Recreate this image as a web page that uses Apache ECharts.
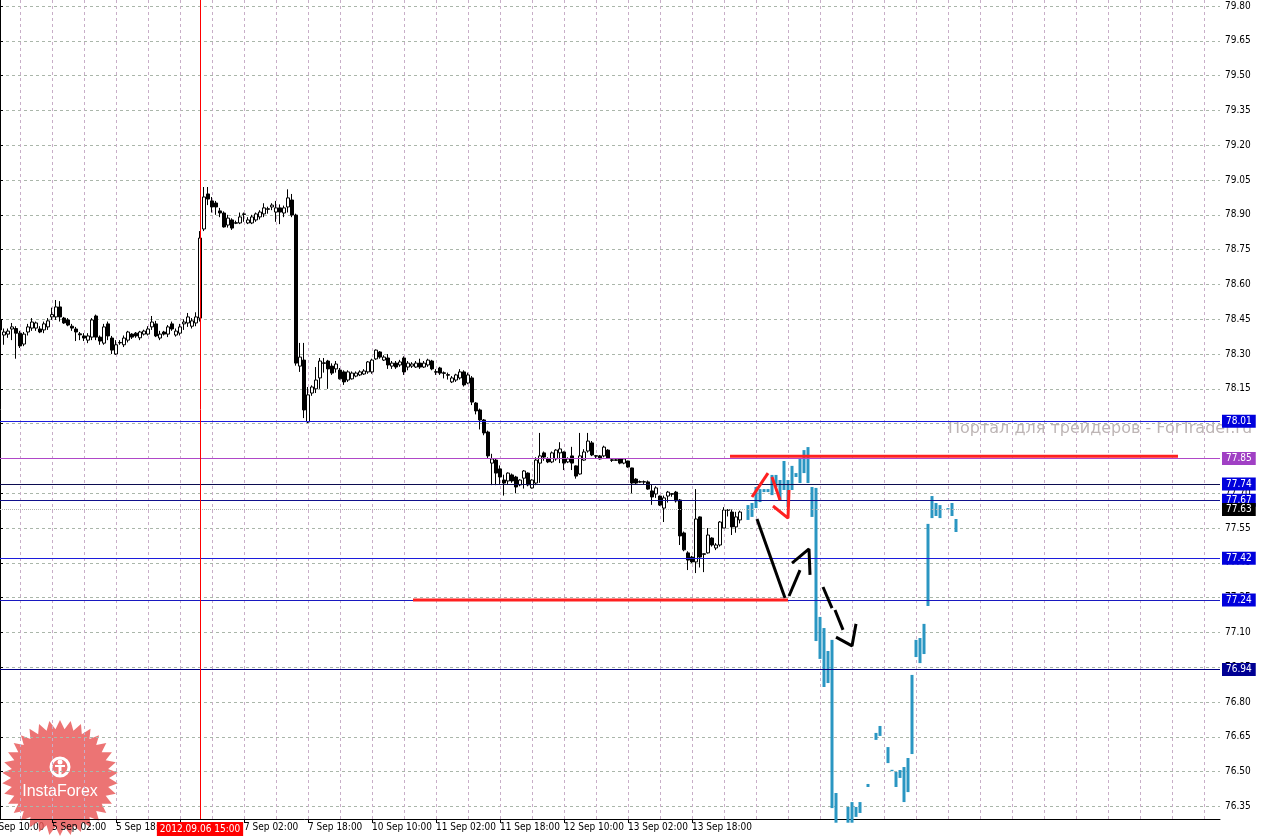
<!DOCTYPE html>
<html><head><meta charset="utf-8">
<script src="https://cdn.jsdelivr.net/npm/echarts@6/dist/echarts.min.js"></script>
<style>html,body{margin:0;padding:0;background:#fff}#c{width:1263px;height:839px}</style>
</head><body><div id="c"></div>
<script>
const FONT = "'DejaVu Sans Condensed','DejaVu Sans',sans-serif";

// time axis: one category per hourly bar, category 0 = 4 Sep 13:00
const barCount = 306;
const firstLabelBefore = '4 Sep 10:00';   // tick 3 bars before the left edge
const xTickLabels = ['5 Sep 02:00','5 Sep 18:00','6 Sep 10:00','7 Sep 02:00','7 Sep 18:00','10 Sep 10:00','11 Sep 02:00','11 Sep 18:00','12 Sep 10:00','13 Sep 02:00','13 Sep 18:00'];
const xTickFirst = 13, xTickStep = 16;
const xGridFirst = 5, xGridStep = 8;
const yTickValues = [76.35,76.50,76.65,76.80,76.95,77.10,77.25,77.40,77.55,77.70,77.85,78.00,78.15,78.30,78.45,78.60,78.75,78.90,79.05,79.20,79.35,79.50,79.65,79.80];
const yMin = 76.296, yMax = 79.826;

// hourly candles [open, close, low, high], starting at category 0
const candles = [
[78.447,78.404,78.39,78.455],[78.382,78.395,78.34,78.41],[78.386,78.399,78.37,78.41],[78.408,78.417,78.36,78.434],
[78.41,78.39,78.28,78.42],[78.39,78.335,78.326,78.40],[78.343,78.386,78.334,78.395],[78.395,78.417,78.38,78.43],
[78.412,78.438,78.40,78.455],[78.412,78.434,78.40,78.44],[78.408,78.395,78.39,78.42],[78.404,78.43,78.39,78.44],
[78.417,78.443,78.404,78.455],[78.46,78.47,78.447,78.50],[78.46,78.503,78.447,78.533],[78.503,78.46,78.44,78.528],
[78.455,78.434,78.43,78.46],[78.447,78.425,78.42,78.455],[78.42,78.412,78.40,78.43],[78.408,78.395,78.356,78.417],
[78.387,78.383,78.36,78.395],[78.378,78.369,78.356,78.39],[78.36,78.378,78.347,78.39],[78.373,78.447,78.36,78.455],
[78.464,78.373,78.36,78.47],[78.373,78.356,78.34,78.38],[78.347,78.417,78.34,78.43],[78.43,78.378,78.36,78.44],
[78.369,78.317,78.30,78.378],[78.30,78.34,78.296,78.36],[78.348,78.35,78.34,78.36],[78.34,78.369,78.33,78.38],
[78.36,78.395,78.35,78.40],[78.386,78.373,78.365,78.39],[78.39,78.378,78.37,78.395],[78.37,78.395,78.36,78.40],
[78.386,78.399,78.38,78.405],[78.386,78.408,78.38,78.42],[78.417,78.438,78.404,78.464],[78.43,78.378,78.373,78.443],
[78.369,78.386,78.36,78.40],[78.395,78.386,78.38,78.40],[78.386,78.417,78.373,78.425],[78.43,78.408,78.40,78.44],
[78.382,78.399,78.375,78.41],[78.39,78.417,78.38,78.43],[78.43,78.438,78.404,78.45],[78.434,78.46,78.417,78.477],
[78.42,78.443,78.41,78.455],[78.434,78.46,78.42,78.48],[78.455,78.80,78.44,78.83],[78.839,78.977,78.83,79.02],
[78.99,78.968,78.942,79.02],[78.96,78.934,78.91,78.977],[78.951,78.934,78.90,78.96],[78.917,78.908,78.89,78.93],
[78.908,78.848,78.845,78.915],[78.856,78.886,78.845,78.90],[78.878,78.843,78.835,78.885],[78.866,78.864,78.86,78.875],
[78.865,78.891,78.86,78.91],[78.904,78.902,78.87,78.91],[78.865,78.878,78.86,78.89],[78.865,78.891,78.86,78.90],
[78.878,78.904,78.87,78.91],[78.891,78.912,78.88,78.92],[78.904,78.930,78.89,78.95],[78.926,78.924,78.905,78.935],
[78.934,78.942,78.92,78.95],[78.912,78.930,78.87,78.96],[78.930,78.912,78.86,78.945],[78.908,78.930,78.89,78.94],
[78.934,78.973,78.91,79.01],[78.964,78.899,78.89,78.99],[78.899,78.261,78.25,78.905],[78.248,78.287,78.223,78.348],
[78.274,78.059,78.024,78.348],[78.007,78.124,78.003,78.158],[78.132,78.158,78.12,78.165],[78.150,78.188,78.132,78.244],
[78.197,78.270,78.150,78.283],[78.262,78.26,78.22,78.283],[78.270,78.236,78.150,78.275],[78.248,78.218,78.21,78.26],
[78.236,78.257,78.22,78.27],[78.231,78.193,78.19,78.24],[78.223,78.180,78.167,78.23],[78.188,78.223,78.18,78.23],
[78.193,78.218,78.19,78.225],[78.205,78.218,78.20,78.225],[78.210,78.223,78.205,78.23],[78.214,78.227,78.21,78.235],
[78.223,78.266,78.215,78.27],[78.223,78.274,78.215,78.28],[78.279,78.317,78.275,78.32],[78.309,78.287,78.28,78.313],
[78.274,78.287,78.27,78.295],[78.283,78.253,78.236,78.30],[78.248,78.261,78.236,78.27],[78.261,78.244,78.236,78.27],
[78.253,78.266,78.245,78.275],[78.283,78.223,78.21,78.29],[78.244,78.261,78.23,78.27],[78.248,78.257,78.24,78.265],
[78.244,78.261,78.24,78.27],[78.261,78.244,78.236,78.28],[78.244,78.261,78.24,78.27],[78.253,78.274,78.245,78.28],
[78.270,78.236,78.23,78.275],[78.224,78.222,78.21,78.235],[78.240,78.218,78.21,78.245],[78.219,78.217,78.195,78.225],
[78.211,78.209,78.19,78.22],[78.180,78.197,78.175,78.205],[78.188,78.210,78.18,78.215],[78.197,78.223,78.19,78.235],
[78.223,78.167,78.16,78.23],[78.175,78.210,78.17,78.22],[78.197,78.093,78.08,78.205],[78.089,78.055,78.04,78.093],
[78.059,78.016,77.975,78.065],[78.016,77.960,77.95,78.02],[77.964,77.861,77.85,77.97],[77.830,77.848,77.735,77.87],
[77.843,77.787,77.735,77.85],[77.805,77.770,77.74,77.82],[77.757,77.744,77.69,77.78],[77.753,77.787,77.74,77.79],
[77.779,77.753,77.745,77.785],[77.770,77.727,77.70,77.775],[77.736,77.757,77.73,77.76],[77.765,77.796,77.72,77.80],
[77.787,77.736,77.73,77.79],[77.723,77.757,77.72,77.76],[77.744,77.843,77.735,77.855],[77.830,77.861,77.745,77.96],
[77.874,77.856,77.84,77.88],[77.848,77.835,77.83,77.855],[77.835,77.874,77.83,77.88],[77.848,77.886,77.84,77.89],
[77.874,77.891,77.83,77.92],[77.878,77.830,77.80,77.88],[77.835,77.848,77.83,77.855],[77.861,77.830,77.80,77.90],
[77.818,77.774,77.763,77.82],[77.783,77.861,77.78,77.96],[77.843,77.878,77.84,77.89],[77.882,77.925,77.875,77.96],
[77.917,77.865,77.86,77.925],[77.862,77.860,77.85,77.865],[77.861,77.848,77.845,77.865],[77.861,77.899,77.855,77.905],
[77.886,77.852,77.85,77.89],[77.844,77.842,77.835,77.85],[77.844,77.842,77.84,77.85],[77.848,77.830,77.825,77.85],
[77.830,77.848,77.825,77.85],[77.839,77.813,77.81,77.84],[77.809,77.744,77.70,77.81],[77.761,77.744,77.74,77.765],
[77.750,77.748,77.745,77.755],[77.750,77.748,77.74,77.755],[77.749,77.718,77.715,77.755],[77.710,77.684,77.65,77.736],
[77.697,77.723,77.68,77.73],[77.688,77.649,77.645,77.69],[77.636,77.680,77.576,77.69],[77.688,77.705,77.66,77.71],
[77.698,77.696,77.685,77.70],[77.705,77.667,77.66,77.71],[77.671,77.516,77.477,77.675],[77.529,77.456,77.45,77.535],
[77.443,77.412,77.369,77.45],[77.425,77.404,77.40,77.43],[77.404,77.589,77.356,77.718],[77.598,77.425,77.38,77.60],
[77.439,77.437,77.36,77.44],[77.443,77.520,77.44,77.55],[77.507,77.477,77.47,77.51],[77.464,77.477,77.455,77.485],
[77.477,77.576,77.47,77.58],[77.550,77.628,77.55,77.64],[77.629,77.627,77.60,77.632],[77.619,77.555,77.52,77.63],
[77.555,77.598,77.53,77.62],[77.585,77.619,77.57,77.625]
];

// overlaid blue range bars [top, bottom], first one at category 187
const blueStart = 187;
const blueBars = [
[77.649,77.585],[77.658,77.598],[77.727,77.636],[77.718,77.662],[77.718,77.705],[77.718,77.705],[77.779,77.692],
[77.779,77.727],[77.757,77.671],[77.839,77.714],[77.757,77.641],[77.818,77.714],[77.787,77.770],[77.852,77.744],
[77.886,77.787],[77.899,77.744],[77.727,77.598],[77.723,77.063],[77.167,76.986],[77.119,76.865],[77.020,76.882],
[77.068,76.343],[76.408,76.28],null,null,[76.348,76.28],[76.369,76.28],[76.348,76.305],[76.369,76.322],null,
[76.447,76.434],null,[76.667,76.637],[76.697,76.654],null,[76.606,76.537],[76.508,76.502],[76.499,76.434],
[76.507,76.473],[76.520,76.369],[76.559,76.412],[76.917,76.576],[77.068,76.994],[77.076,76.968],[77.137,77.007],
[77.568,77.214],[77.688,77.593],[77.658,77.602],[77.649,77.593],null,[77.636,77.630],[77.658,77.602],[77.589,77.533]
];

// horizontal price levels
const levelPrices = [78.01, 77.85, 77.74, 77.67, 77.63, 77.42, 77.24, 76.94];
const levelLine  = ['#1c1cdc','#b048c8','#0c0c50','#10108c','#b4b4b4','#1c1cdc','#1818c0','#000080'];
const levelBox   = ['#0000dc','#a040c4','#0000dc','#0000dc','#000000','#0000dc','#0000dc','#000094'];
const levelType  = ['solid','solid','solid','solid','dotted','solid','solid','solid'];

const cursorIndex = 50; const cursorLabel = '2012.09.06 15:00';

// hand-drawn annotations: [category position, price]
const blackStrokes = [
 [[189.25,77.589],[196.25,77.249]],
 [[197.25,77.257],[200,77.369]],
 [[198,77.399],[202.25,77.460],[202.5,77.348]],
 [[205.75,77.296],[208,77.205]],
 [[208.75,77.197],[210.75,77.111]],
 [[209,77.080],[213,77.042],[214,77.137]]
];
const redStrokes = [
 [[188,77.684],[192,77.787]],
 [[193,77.770],[195,77.671]],
 [[193.25,77.645],[197,77.593],[197.25,77.714]],
 [[103.25,77.24],[197,77.24]],
 [[182.5,77.86],[294.5,77.86]]
];

const categories = [];
for (let i = 0; i < barCount; i++) categories.push(String(i));
const candleData = categories.map(() => ['-','-','-','-']);
candles.forEach((c, i) => { candleData[i] = c; });
const blueData = categories.map(() => ['-','-','-','-']);
blueBars.forEach((b, i) => { if (b) blueData[blueStart + i] = [b[0], b[1], b[1], b[0]]; });

const tickPos = (idx) => (idx - xTickFirst) % xTickStep === 0 && idx >= xTickFirst && (idx - xTickFirst) / xTickStep < xTickLabels.length;

const markData = levelPrices.map((v, i) => ({
  yAxis: v,
  lineStyle: {color: levelLine[i], width: 1, type: levelType[i]},
  label: {show: true, position: 'end', distance: 2, formatter: v.toFixed(2), color: '#fff',
    backgroundColor: levelBox[i], padding: [1,4,0,4], fontSize: 10, lineHeight: 12, fontFamily: FONT}
}));
markData.push({
  xAxis: cursorIndex,
  lineStyle: {color: '#ff0000', width: 1, type: 'solid'},
  label: {show: true, position: 'start', distance: 3, formatter: cursorLabel, color: '#fff',
    backgroundColor: '#ff0000', padding: [1,3,0,3], fontSize: 10, lineHeight: 13, fontFamily: FONT}
});

const series = [
  {type: 'line', data: [], xAxisIndex: 0, yAxisIndex: 0, z: 1, silent: true,
   markLine: {symbol: ['none','none'], silent: true, animation: false, data: markData}},
  {type: 'candlestick', name: 'blue', xAxisIndex: 0, data: blueData, barWidth: 3, z: 3,
   itemStyle: {color: '#2a96c2', color0: '#2a96c2', borderColor: '#2a96c2', borderColor0: '#2a96c2', borderWidth: 0}},
  {type: 'candlestick', name: 'price', xAxisIndex: 0, data: candleData, barWidth: 3, z: 4,
   itemStyle: {color: '#ffffff', color0: '#000000', borderColor: '#000000', borderColor0: '#000000', borderWidth: 1}}
];
blackStrokes.forEach(s => series.push({type: 'line', xAxisIndex: 1, data: s, symbol: 'none', z: 6, silent: true,
  lineStyle: {color: '#000', width: 3}}));
redStrokes.forEach(s => series.push({type: 'line', xAxisIndex: 1, data: s, symbol: 'none', z: 6, silent: true,
  lineStyle: {color: '#ff2020', width: 3}}));

// InstaForex badge outline
const star = [];
const spikes = 34, R = 58, r = 49, cx = 60, cy = 778;
for (let k = 0; k < spikes * 2; k++) {
  const a = Math.PI * k / spikes - Math.PI / 2;
  const rad = k % 2 === 0 ? R : r;
  star.push([cx + rad * Math.cos(a), cy + rad * Math.sin(a)]);
}

const chart = echarts.init(document.getElementById('c'), null, {renderer: 'canvas'});
chart.setOption({
  animation: false,
  backgroundColor: '#ffffff',
  grid: {left: 0, right: 43, top: 0, bottom: 20, containLabel: false},
  xAxis: [{
    type: 'category', data: categories, boundaryGap: false,
    axisLine: {show: true, lineStyle: {color: '#000', width: 1}},
    axisTick: {show: true, length: 4, interval: tickPos, lineStyle: {color: '#000'}},
    axisLabel: {interval: tickPos, align: 'left', margin: 3, fontSize: 10, fontFamily: FONT, color: '#000',
      formatter: (v) => xTickLabels[(Number(v) - xTickFirst) / xTickStep] || ''},
    splitLine: {show: true, interval: (idx) => (idx - xGridFirst) % xGridStep === 0, lineStyle: {color: '#c8aec8', type: [3,3], width: 1}}
  }, {
    type: 'value', min: 0, max: barCount - 1, show: false
  }],
  yAxis: {
    type: 'value', position: 'right', min: yMin, max: yMax, scale: true,
    axisLine: {show: true, lineStyle: {color: '#000', width: 1}},
    axisTick: {show: true, length: 3, customValues: yTickValues, lineStyle: {color: '#000'}},
    axisLabel: {customValues: yTickValues, margin: 5, fontSize: 10, fontFamily: FONT, color: '#000',
      formatter: (v) => v.toFixed(2)},
    splitLine: {show: true, lineStyle: {color: '#aab6aa', type: [3,3], width: 1}}
  },
  series: series,
  graphic: [
    {type: 'text', x: -10, y: 822, z: 0, silent: true,
     style: {text: firstLabelBefore, fill: '#000', font: "10px 'DejaVu Sans Condensed','DejaVu Sans',sans-serif"}},
    {type: 'text', left: 948, top: 421, z: 0, silent: true,
     style: {text: 'Портал для трейдеров - ForTrader.ru', fill: '#bdb5b5', font: "16px 'DejaVu Sans', sans-serif"}},
    {type: 'group', z: 100, silent: true, children: [
      {type: 'polygon', shape: {points: star}, style: {fill: 'rgba(232,86,86,0.82)'}},
      {type: 'circle', shape: {cx: 60, cy: 767, r: 9}, style: {fill: 'none', stroke: '#fff', lineWidth: 3}},
      {type: 'circle', shape: {cx: 60, cy: 762, r: 2.5}, style: {fill: '#fff'}},
      {type: 'rect', shape: {x: 55, y: 765, width: 10, height: 2}, style: {fill: '#fff'}},
      {type: 'rect', shape: {x: 58.5, y: 765, width: 3, height: 11}, style: {fill: '#fff'}},
      {type: 'text', x: 60, y: 792, style: {text: 'InstaForex', fill: '#fff', font: "16px 'Liberation Sans', Arial, sans-serif", align: 'center', verticalAlign: 'middle'}}
    ]}
  ]
});
</script></body></html>
